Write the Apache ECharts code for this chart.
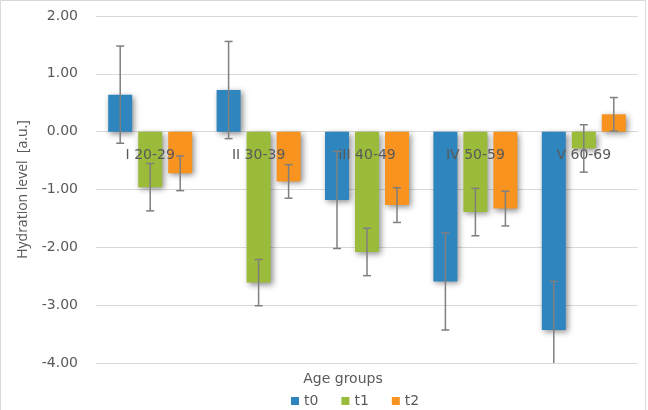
<!DOCTYPE html>
<html>
<head>
<meta charset="utf-8">
<script src="https://cdn.jsdelivr.net/npm/echarts@6/dist/echarts.min.js"></script>
<style>
html,body{margin:0;padding:0;background:#fff;}
#main{width:648px;height:410px;}
</style>
</head>
<body>
<div id="main"></div>
<script>
var categories = ['I 20-29', 'II 30-39', 'III 40-49', 'IV 50-59', 'V 60-69'];
var seriesNames = ['t0', 't1', 't2'];
var t0 = [0.64, 0.72, -1.18, -2.59, -3.43];
var t1 = [-0.96, -2.61, -2.08, -1.39, -0.29];
var t2 = [-0.72, -0.86, -1.27, -1.33, 0.30];
var t0Err = [0.84, 0.84, 0.84, 0.84, 0.84];
var t1Err = [0.41, 0.40, 0.41, 0.41, 0.41];
var t2Err = [0.30, 0.29, 0.30, 0.30, 0.29];
var yTicks = [-4, -3, -2, -1, 0, 1, 2];

var values = [t0, t1, t2];
var errs = [t0Err, t1Err, t2Err];
var colors = ['#2F86BE', '#9BBB3A', '#F7931E'];
var offsets = [-30, 0, 30];
var FONT = 'DejaVu Sans';

var chart = echarts.init(document.getElementById('main'));
var series = [];
values.forEach(function (vals, si) {
  series.push({
    name: seriesNames[si],
    type: 'bar',
    data: vals,
    barWidth: 24,
    barGap: '25%',
    z: 2,
    itemStyle: {
      color: colors[si],
      shadowColor: 'rgba(0,0,0,0.45)',
      shadowBlur: 6,
      shadowOffsetX: 2,
      shadowOffsetY: 2
    }
  });
});
// category labels drawn at the zero line
series.push({
  name: 'cat labels',
  type: 'custom',
  z: 15,
  silent: true,
  clip: false,
  data: categories.map(function (c, i) { return [i, 0]; }),
  encode: {x: 0, y: 1},
  renderItem: function (params, api) {
    var p = api.coord([api.value(0), 0]);
    return {
      type: 'text',
      x: p[0], y: p[1] + 24,
      style: {
        text: categories[params.dataIndex],
        fill: '#595959',
        font: '14px "' + FONT + '"',
        align: 'center',
        verticalAlign: 'middle'
      }
    };
  }
});
values.forEach(function (vals, si) {
  var data = vals.map(function (v, i) {
    return [i, v - errs[si][i], v + errs[si][i]];
  });
  series.push({
    name: seriesNames[si] + ' err',
    type: 'custom',
    z: 20,
    silent: true,
    clip: true,
    encode: {x: 0, y: [1, 2]},
    data: data,
    renderItem: (function (off) {
      return function (params, api) {
        var lo = api.coord([api.value(0), api.value(1)]);
        var hi = api.coord([api.value(0), api.value(2)]);
        var x = lo[0] + off;
        var style = {stroke: '#7F7F7F', lineWidth: 1.5};
        return {
          type: 'group',
          children: [
            {type: 'line', shape: {x1: x, y1: lo[1], x2: x, y2: hi[1]}, style: style},
            {type: 'line', shape: {x1: x - 4, y1: lo[1], x2: x + 4, y2: lo[1]}, style: style},
            {type: 'line', shape: {x1: x - 4, y1: hi[1], x2: x + 4, y2: hi[1]}, style: style}
          ]
        };
      };
    })(offsets[si])
  });
});

chart.setOption({
  animation: false,
  backgroundColor: '#ffffff',
  textStyle: {fontFamily: FONT},
  graphic: [{
    type: 'rect',
    shape: {x: 0.5, y: 0.5, width: 645, height: 415},
    style: {fill: 'none', stroke: '#D9D9D9', lineWidth: 1},
    silent: true
  }, {
    type: 'text',
    x: 343, y: 379,
    style: {
      text: 'Age groups', fill: '#595959', font: '14px "' + FONT + '"',
      align: 'center', verticalAlign: 'middle'
    },
    silent: true
  }],
  grid: {left: 96, right: 10, top: 16, bottom: 47, outerBoundsMode: 'none'},
  legend: {
    data: seriesNames,
    top: 394,
    left: 286,
    padding: [0, 5, 0, 5],
    icon: 'rect',
    itemWidth: 8,
    itemHeight: 8,
    itemGap: 23,
    textStyle: {color: '#595959', fontSize: 14, fontFamily: FONT}
  },
  xAxis: {
    type: 'category',
    data: categories,
    axisLine: {onZero: true, lineStyle: {color: '#D9D9D9'}},
    axisTick: {show: false},
    axisLabel: {show: false}
  },
  yAxis: {
    type: 'value',
    min: -4,
    max: 2,
    interval: 1,
    name: 'Hydration level  [a.u.]',
    nameLocation: 'middle',
    nameGap: 66,
    nameRotate: 90,
    nameTextStyle: {color: '#595959', fontSize: 14, fontFamily: 'Open Sans'},
    axisLine: {show: false},
    axisTick: {show: false},
    splitLine: {lineStyle: {color: '#D9D9D9'}},
    axisLabel: {
      color: '#595959', fontSize: 14, margin: 18, fontFamily: FONT,
      formatter: function (v) { return v.toFixed(2); }
    }
  },
  series: series
});
</script>
</body>
</html>
